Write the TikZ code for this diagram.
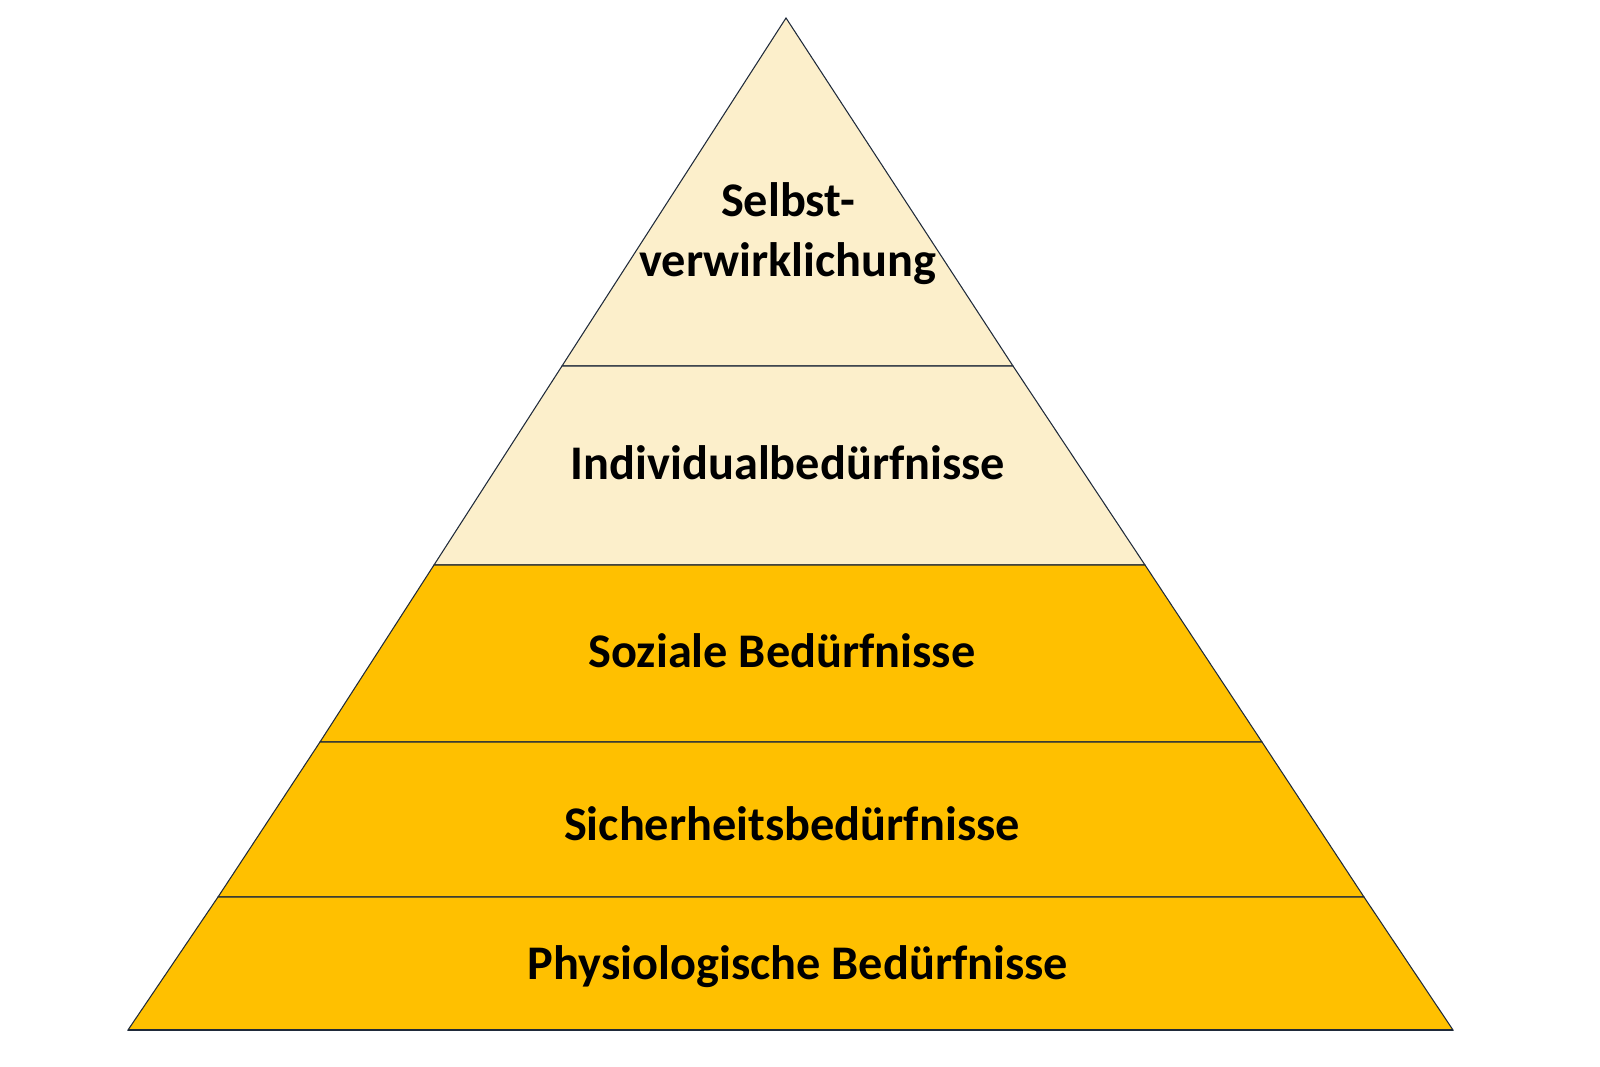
\documentclass[tikz,border=0pt]{standalone}
\usepackage{fontspec}
\setmainfont{Carlito}
\definecolor{paleyellow}{HTML}{FCEFCB}
\definecolor{gold}{HTML}{FFC000}
\definecolor{edge}{HTML}{1F2A3A}
\tikzset{layer/.style={draw=edge,line width=0.6pt},
	label/.style={font=\fontsize{27.5}{34}\selectfont\bfseries,align=center}}
\begin{document}
\begin{tikzpicture}
		\useasboundingbox (0,0) rectangle (32,-21.34);
		\coordinate (T) at (15.72,-0.36);
		\coordinate (L1) at (11.24,-7.32);  \coordinate (R1) at (20.26,-7.32);
		\coordinate (L2) at (8.68,-11.3);   \coordinate (R2) at (22.9,-11.3);
		\coordinate (L3) at (6.4,-14.84);   \coordinate (R3) at (25.24,-14.84);
		\coordinate (L4) at (4.36,-17.94);  \coordinate (R4) at (27.28,-17.94);
		\coordinate (L5) at (2.56,-20.6);   \coordinate (R5) at (29.06,-20.6);
		
		\path[layer,fill=paleyellow] (T) -- (R1) -- (L1) -- cycle;
		\path[layer,fill=paleyellow] (L1) -- (R1) -- (R2) -- (L2) -- cycle;
		\path[layer,fill=gold] (L2) -- (R2) -- (R3) -- (L3) -- cycle;
		\path[layer,fill=gold] (L3) -- (R3) -- (R4) -- (L4) -- cycle;
		\path[layer,fill=gold] (L4) -- (R4) -- (R5) -- (L5) -- cycle;
		\draw[edge,line width=1.6pt] (L5) -- (R5);
		
		\node[label] (self) at (15.76,-4.68) {Selbst-\\verwirklichung};
		\node[label] (indiv) at (15.76,-9.26) {Individualbedürfnisse};
		\node[label] (soz) at (15.64,-13.02) {Soziale Bedürfnisse};
		\node[label] (sich) at (15.84,-16.48) {Sicherheitsbedürfnisse};
		\node[label] (phys) at (15.96,-19.34) {Physiologische Bedürfnisse};
		\end{tikzpicture}
\end{document}
